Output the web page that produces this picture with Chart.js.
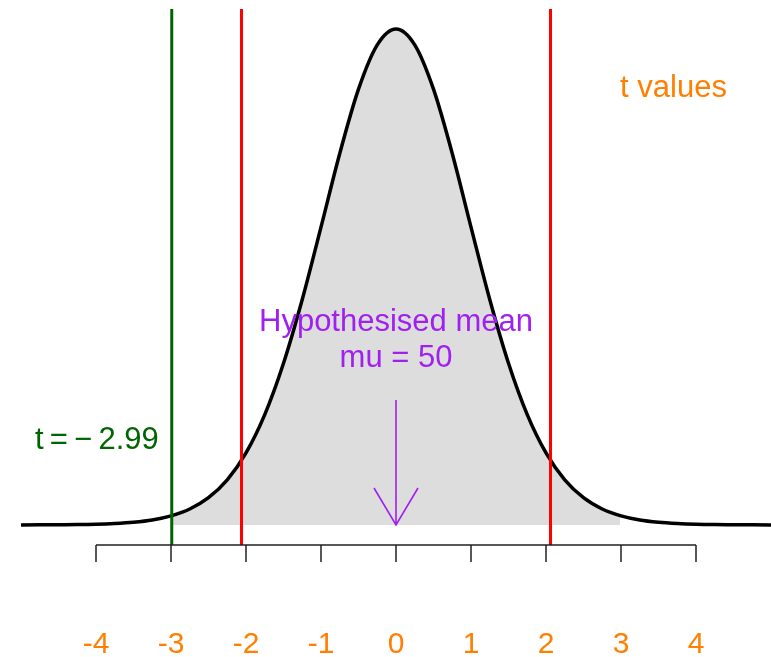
<!DOCTYPE html>
<html lang="en">
<head>
  <meta charset="UTF-8" />
  <title>t distribution</title>
  <script src="https://cdn.jsdelivr.net/npm/chart.js"></script>
  <style>
    body { margin: 0; background: #ffffff; }
    canvas { display: block; }
  </style>
</head>
<body>
  <canvas id="tChart" width="771" height="657"></canvas>

  <script>
    // t grid and density
    const tGrid = [-5, -4.75, -4.5, -4.25, -4, -3.75, -3.5, -3.25, -3, -2.75, -2.5, -2.25, -2, -1.75, -1.5, -1.25, -1, -0.75, -0.5, -0.25,
                   0, 0.25, 0.5, 0.75, 1, 1.25, 1.5, 1.75, 2, 2.25, 2.5, 2.75, 3, 3.25, 3.5, 3.75, 4, 4.25, 4.5, 4.75, 5];
    const density = [0.0000, 0.0001, 0.0002, 0.0003, 0.0006, 0.0012, 0.0022, 0.0040, 0.0073, 0.0127, 0.0217, 0.0359, 0.0574, 0.0879, 0.1288, 0.1796, 0.2372, 0.2958, 0.3470, 0.3823,
                     0.3950, 0.3823, 0.3470, 0.2958, 0.2372, 0.1796, 0.1288, 0.0879, 0.0574, 0.0359, 0.0217, 0.0127, 0.0073, 0.0040, 0.0022, 0.0012, 0.0006, 0.0003, 0.0002, 0.0001, 0.0000];

    const tTicks = [-4, -3, -2, -1, 0, 1, 2, 3, 4];
    const tickLabels = ['-4', '-3', '-2', '-1', '0', '1', '2', '3', '4'];

    const critT = 2.06;      // red lines
    const tObs = -2.99;      // green line
    const shadeLimit = 2.99; // grey area between -2.99 and 2.99
    const shadeEdgeDensity = 0.0074;

    const yAxisLevel = -0.0159; // where the bottom axis sits
    const lineTop = 0.4108;

    const curve = tGrid.map((t, i) => ({ x: t, y: density[i] }));
    const shade = [{ x: -shadeLimit, y: shadeEdgeDensity }]
      .concat(curve.filter(p => Math.abs(p.x) < shadeLimit))
      .concat([{ x: shadeLimit, y: shadeEdgeDensity }]);

    function vline(x) {
      return [{ x: x, y: yAxisLevel }, { x: x, y: lineTop }];
    }

    const FONT = '"Liberation Sans", Arial, sans-serif';

    const extras = {
      id: 'extras',
      afterDraw(chart) {
        const ctx = chart.ctx;
        const xs = chart.scales.x;
        const ys = chart.scales.y;
        const yAx = ys.getPixelForValue(yAxisLevel);
        const y0 = ys.getPixelForValue(0);
        ctx.save();

        // bottom axis
        ctx.strokeStyle = '#222';
        ctx.lineWidth = 1.5;
        ctx.beginPath();
        ctx.moveTo(xs.getPixelForValue(tTicks[0]), yAx);
        ctx.lineTo(xs.getPixelForValue(tTicks[tTicks.length - 1]), yAx);
        tTicks.forEach(t => {
          const px = xs.getPixelForValue(t);
          ctx.moveTo(px, yAx);
          ctx.lineTo(px, yAx + 17);
        });
        ctx.stroke();

        // tick labels
        ctx.font = '30px ' + FONT;
        ctx.fillStyle = '#ff7f00';
        ctx.textAlign = 'center';
        ctx.textBaseline = 'alphabetic';
        tTicks.forEach((t, i) => {
          ctx.fillText(tickLabels[i], xs.getPixelForValue(t), 653);
        });

        ctx.font = '31px ' + FONT;
        ctx.fillText('t values', xs.getPixelForValue(3.7), 97);

        // hypothesised mean
        ctx.fillStyle = '#a020f0';
        ctx.fillText('Hypothesised mean', xs.getPixelForValue(0), 331);
        ctx.fillText('mu = 50', xs.getPixelForValue(0), 367);

        const ax = xs.getPixelForValue(0);
        ctx.strokeStyle = '#a020f0';
        ctx.lineWidth = 1.6;
        ctx.beginPath();
        ctx.moveTo(ax, y0 - 125);
        ctx.lineTo(ax, y0);
        ctx.moveTo(ax - 22, y0 - 37);
        ctx.lineTo(ax, y0);
        ctx.lineTo(ax + 22, y0 - 37);
        ctx.stroke();

        // observed t label
        ctx.fillStyle = '#006400';
        ctx.textAlign = 'right';
        ctx.fillText('t\u2009=\u2009\u2212\u20092.99', xs.getPixelForValue(tObs) - 13, 449);

        ctx.restore();
      }
    };

    new Chart(document.getElementById('tChart'), {
      type: 'scatter',
      data: {
        datasets: [
          {
            data: vline(tObs),
            showLine: true, borderColor: '#006400', borderWidth: 3,
            pointRadius: 0, order: 1
          },
          {
            data: vline(-critT),
            showLine: true, borderColor: '#ff0000', borderWidth: 3,
            pointRadius: 0, order: 2
          },
          {
            data: vline(critT),
            showLine: true, borderColor: '#ff0000', borderWidth: 3,
            pointRadius: 0, order: 2
          },
          {
            data: curve,
            showLine: true, borderColor: '#000000', borderWidth: 3.5,
            cubicInterpolationMode: 'monotone',
            pointRadius: 0, order: 3
          },
          {
            data: shade,
            showLine: true, borderWidth: 0, borderColor: 'rgba(0,0,0,0)',
            backgroundColor: '#dddddd', fill: 'origin',
            cubicInterpolationMode: 'monotone',
            pointRadius: 0, order: 4
          }
        ]
      },
      options: {
        responsive: false,
        animation: false,
        layout: { padding: 0 },
        plugins: {
          legend: { display: false },
          tooltip: { enabled: false }
        },
        scales: {
          x: { type: 'linear', min: -5.28, max: 5.0, display: false },
          y: { type: 'linear', min: -0.1051, max: 0.418, display: false }
        }
      },
      plugins: [extras]
    });
  </script>
</body>
</html>
